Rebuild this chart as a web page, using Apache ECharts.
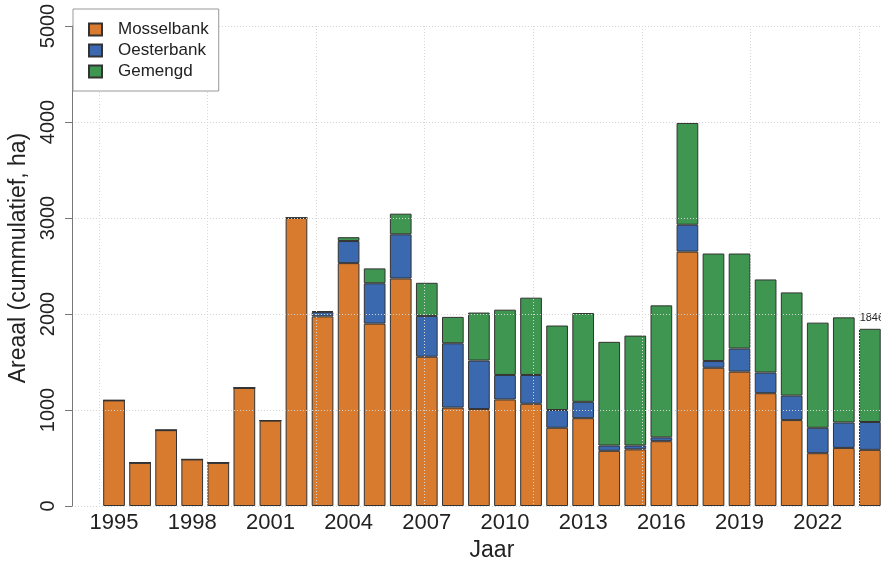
<!DOCTYPE html>
<html>
<head>
<meta charset="utf-8">
<script src="https://cdn.jsdelivr.net/npm/echarts@6/dist/echarts.min.js"></script>
<style>html,body{margin:0;padding:0;background:#fff;}#c{width:881px;height:563px;}</style>
</head>
<body>
<div id="c"></div>
<script>
var years = ['1995','1996','1997','1998','1999','2000','2001','2002','2003','2004','2005','2006','2007','2008','2009','2010','2011','2012','2013','2014','2015','2016','2017','2018','2019','2020','2021','2022','2023','2024'];
var mosselbank = [1100,450,790,485,450,1230,890,3000,1975,2530,1900,2370,1555,1025,1010,1110,1065,815,915,575,590,675,2650,1440,1400,1175,895,550,605,585];
var oesterbank = [0,0,0,0,0,0,0,0,45,230,420,460,425,670,505,255,300,185,170,55,40,40,280,70,240,215,255,265,265,290];
var gemengd    = [0,0,0,0,0,0,0,0,10,40,155,215,345,275,500,680,805,880,925,1080,1145,1375,1060,1120,990,970,1075,1095,1095,971];
var yTicks = [0,1000,2000,3000,4000,5000];
var seriesNames = ['Mosselbank','Oesterbank','Gemengd'];
var colors = ['#D97B2F','#3A69B0','#3E9650'];

var FONT = '"Liberation Sans", Arial, sans-serif';
var last = years.length - 1;
var lastTotal = mosselbank[last] + oesterbank[last] + gemengd[last];

var gemData = gemengd.map(function (v, i) {
  if (i === last) {
    return {value: v, label: {show: true, position: 'top', distance: 5, offset: [2, 0],
      formatter: String(lastTotal), fontSize: 11, color: '#222', fontFamily: FONT}};
  }
  return v;
});

function barSeries(name, data, color) {
  return {
    name: name, type: 'bar', stack: 'tot', xAxisIndex: 2, yAxisIndex: 2,
    barWidth: 21.7, data: data,
    itemStyle: {color: color, borderColor: '#333', borderWidth: 1},
    emphasis: {disabled: true}
  };
}

var chart = echarts.init(document.getElementById('c'), null, {renderer: 'canvas'});
chart.setOption({
  animation: false,
  textStyle: {fontFamily: FONT},
  grid: [
    {left: 72, top: 26, height: 480, width: 809, outerBoundsMode: 'none', containLabel: false},
    {left: 98.8, top: 26, height: 480, width: 760.2, outerBoundsMode: 'none', containLabel: false},
    {left: 101, top: 26, height: 480, width: 781.9, outerBoundsMode: 'none', containLabel: false}
  ],
  legend: {
    orient: 'vertical', left: 73, top: 9, z: 10,
    backgroundColor: '#fff', borderColor: '#999', borderWidth: 1,
    padding: [10, 10, 9, 15], itemWidth: 13, itemHeight: 12, itemGap: 0,
    icon: 'rect',
    textStyle: {fontSize: 17, color: '#222', lineHeight: 21, padding: [0, 0, 0, 11], fontFamily: FONT},
    data: seriesNames
  },
  xAxis: [
    {gridIndex: 0, type: 'value', show: false, min: 0, max: 1},
    {gridIndex: 1, type: 'value', min: 0, max: 35, interval: 5, z: 3,
      axisLine: {show: false}, axisTick: {show: false}, axisLabel: {show: false},
      splitLine: {show: true, lineStyle: {color: '#d6d6d6', type: [1, 2], width: 1}}},
    {gridIndex: 2, type: 'category', data: years,
      axisLine: {show: false}, axisTick: {show: false},
      axisLabel: {interval: 2, fontSize: 22, color: '#222', margin: 6, fontFamily: FONT},
      name: 'Jaar', nameLocation: 'middle', nameGap: 33,
      nameTextStyle: {fontSize: 23, color: '#222', fontFamily: FONT}}
  ],
  yAxis: [
    {gridIndex: 0, type: 'value', min: yTicks[0], max: yTicks[yTicks.length - 1], interval: 1000, z: 3,
      axisLine: {show: true, lineStyle: {color: '#777'}},
      axisTick: {show: true, length: 7, lineStyle: {color: '#777'}},
      axisLabel: {rotate: 90, fontSize: 20, margin: 14, color: '#222', fontFamily: FONT,
        formatter: function (v) { return String(v); }},
      splitLine: {show: true, lineStyle: {color: '#d6d6d6', type: [1, 2], width: 1}},
      name: 'Areaal (cummulatief, ha)', nameLocation: 'middle', nameGap: 39,
      nameTextStyle: {fontSize: 23, color: '#222', fontFamily: FONT, padding: [0, 0, 0, 16]}},
    {gridIndex: 1, type: 'value', min: 0, max: 5000, show: false},
    {gridIndex: 2, type: 'value', min: 0, max: 5000, show: false}
  ],
  series: [
    barSeries(seriesNames[0], mosselbank, colors[0]),
    barSeries(seriesNames[1], oesterbank, colors[1]),
    barSeries(seriesNames[2], gemData, colors[2])
  ]
});
</script>
</body>
</html>
